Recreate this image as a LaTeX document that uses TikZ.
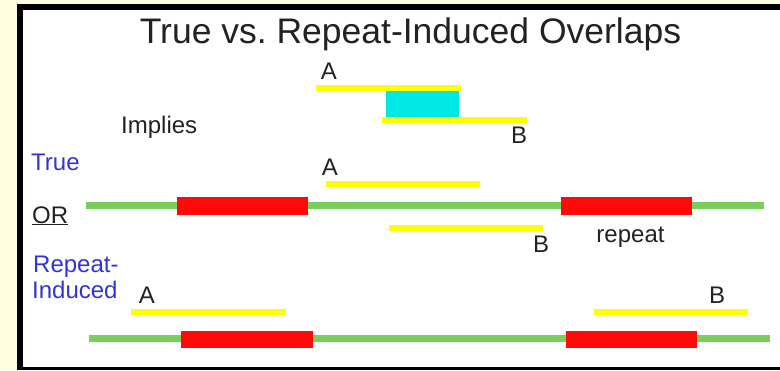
\documentclass[tikz,border=0pt]{standalone}
\usepackage{fontspec}
\setmainfont{Liberation Sans}
\frenchspacing
\definecolor{pagebg}{HTML}{FFFFE0}
\definecolor{readcol}{HTML}{FFFF00}
\definecolor{overlapcol}{HTML}{00E8E4}
\definecolor{genomecol}{HTML}{78CF5A}
\definecolor{repeatcol}{HTML}{FF0A0A}
\definecolor{inkcol}{HTML}{222222}
\definecolor{tagcol}{HTML}{3434D0}
\tikzset{
  readbar/.style={fill=readcol},
  genome/.style={fill=genomecol},
  repeatbox/.style={fill=repeatcol},
  overlapbox/.style={fill=overlapcol},
  lbl/.style={inner sep=0pt, text=inkcol, font=\fontsize{24}{26}\selectfont},
  tag/.style={lbl, text=tagcol},
  titlefont/.style={inner sep=0pt, text=inkcol, font=\fontsize{35.5}{40}\selectfont}
}
\begin{document}
\begin{tikzpicture}[x=1pt, y=-1pt]
  % page, panel and frame
  \fill[pagebg] (0,0) rectangle (780,370);
  \useasboundingbox (0,0) rectangle (780,370);
  \fill[white] (20,7) rectangle (780,368);
  \fill[black] (17,4) rectangle (780,10);
  \fill[black] (17,4) rectangle (23,370);
  \fill[black] (17,366.5) rectangle (780,370);

  % title
  \node[titlefont, anchor=base] (title) at (410.5,43) {True vs. Repeat-Induced Overlaps};

  % overlap of two reads
  \fill[overlapbox] (386,91) rectangle (459,117);
  \fill[readbar] (316,84.5) rectangle (461,91);
  \fill[readbar] (382,117) rectangle (527,123);
  \node[lbl, anchor=base] (topA) at (329,79) {A};
  \node[lbl, anchor=base] (topB) at (519,143) {B};
  \node[lbl, anchor=base west] (implies) at (121,133) {Implies};

  % true overlap
  \node[tag, anchor=base west] (true) at (31,170) {True};
  \fill[genome] (86,201.5) rectangle (764,208.5);
  \fill[repeatbox] (177,197) rectangle (308,214.5);
  \fill[repeatbox] (561,197) rectangle (692,214.5);
  \fill[readbar] (326,181) rectangle (480,187);
  \fill[readbar] (389,225) rectangle (543,231);
  \node[lbl, anchor=base] (midA) at (330,175) {A};
  \node[lbl, anchor=base] (midB) at (541,252) {B};
  \node[lbl, anchor=base] (repeat) at (630.5,242) {repeat};
  \node[lbl, anchor=base west] (or) at (32,223) {\underline{OR}};

  % repeat-induced overlap
  \node[tag, anchor=base west] (rep1) at (33,272) {Repeat-};
  \node[tag, anchor=base west] (rep2) at (32,298) {Induced};
  \fill[genome] (89,335) rectangle (770,342);
  \fill[repeatbox] (181,330.5) rectangle (313,348);
  \fill[repeatbox] (566,330.5) rectangle (697,348);
  \fill[readbar] (131,309) rectangle (286,315);
  \fill[readbar] (594,308.5) rectangle (748,314.5);
  \node[lbl, anchor=base] (botA) at (147,303) {A};
  \node[lbl, anchor=base] (botB) at (717,303) {B};
\end{tikzpicture}
\end{document}
